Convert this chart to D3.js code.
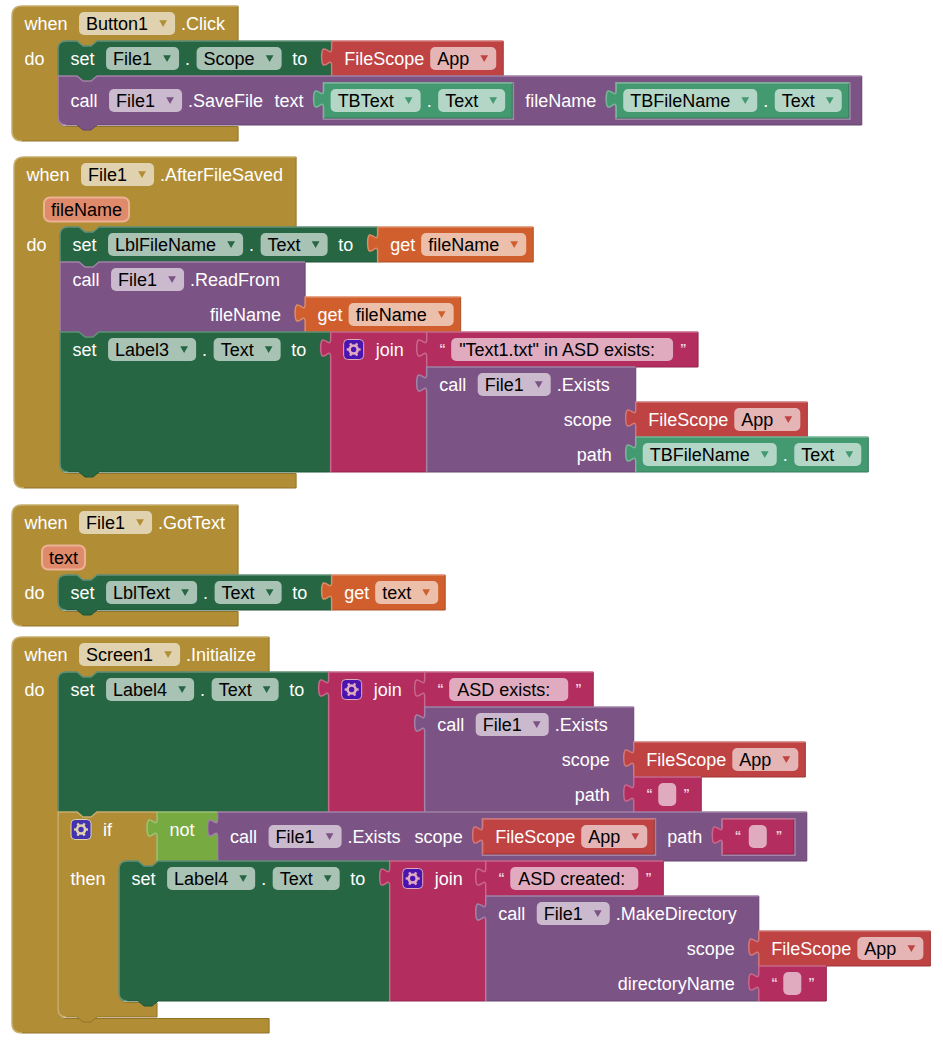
<!DOCTYPE html>
<html>
<head>
<meta charset="utf-8">
<script src="https://cdn.jsdelivr.net/npm/d3@7"></script>
<style>
  html, body { margin: 0; background: #fff; }
  svg { display: block; }
  text { font-family: "Liberation Sans", Arial, sans-serif; font-size: 18px; white-space: pre; }
</style>
</head>
<body>
<script>
// what the blocks say, one small list per event handler
const clickStatements = [
  setter('File1', 'Scope', fileScope()),
  callInline('File1', '.SaveFile', [
    ['text', getter('TBText', 'Text')],
    ['fileName', getter('TBFileName', 'Text')],
  ]),
];

const afterSavedStatements = [
  setter('LblFileName', 'Text', getVar('fileName')),
  callExternal('File1', '.ReadFrom', [['fileName', getVar('fileName')]]),
  setter('Label3', 'Text', join(
    string('"Text1.txt" in ASD exists:\u00a0\u00a0'),
    callExternal('File1', '.Exists', [
      ['scope', fileScope()],
      ['path', getter('TBFileName', 'Text')],
    ])
  )),
];

const gotTextStatements = [
  setter('LblText', 'Text', getVar('text')),
];

const initializeStatements = [
  setter('Label4', 'Text', join(
    string('ASD exists:\u00a0\u00a0'),
    callExternal('File1', '.Exists', [
      ['scope', fileScope()],
      ['path', string('')],
    ])
  )),
  ifThen(
    not(callInline('File1', '.Exists', [
      ['scope', fileScope()],
      ['path', string('')],
    ])),
    [
      setter('Label4', 'Text', join(
        string('ASD created:\u00a0'),
        callExternal('File1', '.MakeDirectory', [
          ['scope', fileScope()],
          ['directoryName', string('')],
        ])
      )),
    ]
  ),
];

const handlers = [
  eventBlock('Button1', '.Click', null, clickStatements),
  eventBlock('File1', '.AfterFileSaved', 'fileName', afterSavedStatements),
  eventBlock('File1', '.GotText', 'text', gotTextStatements),
  eventBlock('Screen1', '.Initialize', null, initializeStatements),
];

// workspace layout
const width = 943;
const height = 1050;
const handlerX = [12, 14, 12, 12];
const handlerY = [6, 157, 505, 637];

const colors = {
  control: '#b18e35',
  setter: '#266643',
  getter: '#439970',
  scope: '#bf4343',
  call: '#7c5385',
  string: '#b32d5e',
  variable: '#d05f2d',
  logic: '#77ab41',
};

const ROW = 35;
const INLINE_ROW = 49;
const BAR = 16;
// room between the longest label of a block and its input column
const callColumnPad = { '.ReadFrom': 25, '.Exists': 26, '.MakeDirectory': 22 };
const kindColumnPad = { string: 23, logic: 23, setter: 24.5 };

function txt(v) { return { type: 'text', v }; }
function dd(v) { return { type: 'dd', v }; }
function gear() { return { type: 'gear' }; }
function quote(v) { return { type: 'quote', v }; }
function tf(v) { return { type: 'tf', v }; }
function arg(v) { return { type: 'arg', v }; }

function setter(comp, prop, value) {
  return {
    type: 'block', kind: 'setter',
    rows: [{ fields: [txt('set'), dd(comp), txt('.'), dd(prop), txt('to')], input: value }],
  };
}
function getter(comp, prop) {
  return {
    type: 'block', kind: 'getter',
    rows: [{ fields: [dd(comp), txt('.'), dd(prop)] }],
  };
}
function fileScope() {
  return {
    type: 'block', kind: 'scope', tight: true,
    rows: [{ fields: [txt('FileScope'), dd('App')] }],
  };
}
function getVar(name) {
  return {
    type: 'block', kind: 'variable', tight: true,
    rows: [{ fields: [txt('get'), dd(name)] }],
  };
}
function string(v) {
  return {
    type: 'block', kind: 'string',
    rows: [{ fields: [quote('\u201c'), tf(v), quote('\u201d')] }],
  };
}
function join(a, b) {
  return {
    type: 'block', kind: 'string',
    rows: [{ fields: [gear(), txt('join')], input: a }, { fields: [], input: b }],
  };
}
function not(value) {
  return {
    type: 'block', kind: 'logic',
    rows: [{ fields: [txt('not')], input: value }],
  };
}
function callExternal(comp, method, args) {
  return {
    type: 'block', kind: 'call', method,
    rows: [{ fields: [txt('call'), dd(comp), txt(method)] }]
      .concat(args.map(([label, value]) => ({ fields: [txt(label)], input: value, right: true }))),
  };
}
function callInline(comp, method, args) {
  const fields = [txt('call'), dd(comp), txt(method)];
  args.forEach(([label, value]) => fields.push(txt(label), value));
  return { type: 'block', kind: 'call', rows: [{ fields, inline: true }] };
}
function ifThen(cond, statements) {
  return {
    type: 'block', kind: 'control', minCol: 99,
    rows: [
      { fields: [gear(), txt('if')], input: cond },
      { fields: [txt('then')], stmts: statements },
    ],
  };
}
function eventBlock(comp, evt, param, statements) {
  const rows = [{ fields: [txt('when'), dd(comp), txt(evt)] }];
  if (param) rows.push({ fields: [arg(param)] });
  rows.push({ fields: [txt('do')], stmts: statements });
  return { type: 'block', kind: 'control', event: true, rows };
}

// text measuring
const svg = d3.select('body').append('svg')
  .attr('width', width)
  .attr('height', height);

const ruler = svg.append('text').attr('visibility', 'hidden');
const textWidth = (s) => {
  ruler.text(s);
  return ruler.node().getComputedTextLength();
};

const fieldWidth = (f) => {
  switch (f.type) {
    case 'text': return textWidth(f.v);
    case 'dd': return textWidth(f.v) + 34;
    case 'tf': return Math.max(18, textWidth(f.v) + 16);
    case 'arg': return textWidth(f.v) + 14;
    case 'quote': return 5;
    case 'gear': return 21;
    default: return f.w;
  }
};

const fieldGap = (prev, f, b) => {
  if (!prev) {
    if (f.type === 'dd') return 7;
    if (f.type === 'arg') return 30;
    return 12.5;
  }
  if (f.type === 'block') return 20;
  if (prev.type === 'block') return 13;
  // an empty string plugged inline sits a little wider
  if (f.type === 'quote' || prev.type === 'quote') return b.inlined ? 9 : 7;
  if (f.type === 'text' && f.v[0] === '.') return 6;
  if (prev.type === 'text' && prev.v === '.') return 6.5;
  if (prev.type === 'text' && prev.v === '.Exists') return 14;
  if (b.tight) return 6;
  if (prev.type === 'dd') return 10.5;
  return 11.5;
};

// sets widths, heights and field offsets, bottom up
function layout(b) {
  let col = b.minCol || 0;
  let end = 0;
  let hasInput = false;
  const columnPad = callColumnPad[b.method] || kindColumnPad[b.kind] || 24;
  b.stmtRow = null;

  b.rows.forEach((row) => {
    let x = 0;
    let prev = null;
    row.fields.forEach((f) => {
      if (f.type === 'block') {
        f.output = true;
        f.inlined = true;
        layout(f);
      }
      x += fieldGap(prev, f, b);
      f.x = x;
      x += fieldWidth(f);
      prev = f;
    });
    row.end = x;
    if (row.inline) row.end += prev.type === 'block' ? 13 : 7;

    row.h = row.inline ? INLINE_ROW : ROW;
    if (row.input) {
      row.input.output = true;
      layout(row.input);
      row.h = Math.max(ROW, row.input.h);
      hasInput = true;
    } else if (row.stmts) {
      row.stmts.forEach((s, i) => {
        s.stmt = true;
        s.roundTop = i === 0;
        s.roundBottom = i === row.stmts.length - 1;
        layout(s);
      });
      row.stmtX = row.end + 13.5;
      row.h = d3.sum(row.stmts, (s) => s.h);
      b.stmtRow = row;
    }
    if (!row.stmts) col = Math.max(col, row.end + columnPad);
    if (!row.stmts && !row.input && !row.inline && row.fields.length) {
      const last = row.fields[row.fields.length - 1];
      end = Math.max(end, row.end + (last.type === 'dd' ? 7 : 13));
    }
    if (row.inline) end = Math.max(end, row.end);
  });

  b.w = hasInput ? col : end;
  b.h = d3.sum(b.rows, (r) => r.h) + (b.stmtRow ? BAR : 0);
}

const mix = (c, other, t) => d3.interpolateRgb(c, other)(t);

// outline split in two, so top/left and bottom/right can get their own edge colour
function outline(b, x, y) {
  const w = b.w;
  const h = b.h;
  const rt = b.event ? 10 : (b.roundTop ? 8 : 0);
  const rb = b.event ? 10 : (b.roundBottom ? 8 : 0);
  let d = `M${x + rb},${y + h}`;
  if (rb) d += `Q${x},${y + h} ${x},${y + h - rb}`;
  if (b.output) {
    d += `L${x},${y + 25}c0,-12 -10,10 -10,-9 s10,3 10,-9`;
  }
  d += `L${x},${y + rt}`;
  if (rt) d += `Q${x},${y} ${x + rt},${y}`;
  if (b.stmt) d += `L${x + 19},${y}l6,5h8l6,-5`;
  d += `L${x + w},${y}`;

  let rest = '';
  const bump = (bx, by) => `L${bx + 39},${by}l-6,5h-8l-6,-5`;
  if (b.stmtRow) {
    const rowsAbove = d3.sum(b.rows.slice(0, b.rows.indexOf(b.stmtRow)), (r) => r.h);
    const y1 = y + rowsAbove;
    const y2 = y1 + b.stmtRow.h;
    const sx = x + b.stmtRow.stmtX;
    rest += `L${x + w},${y1}` + bump(sx, y1);
    rest += `L${sx + 8},${y1}Q${sx},${y1} ${sx},${y1 + 8}`;
    rest += `L${sx},${y2 - 8}Q${sx},${y2 + 1.5} ${sx + 8},${y2 + 1.5}`;
    rest += `L${x + w},${y2 + 1.5}`;
  }
  rest += `L${x + w},${y + h}`;
  if (b.stmt) rest += bump(x, y + h);
  rest += `L${x + rb},${y + h}`;
  return { top: d, rest };
}

function drawField(g, f, x, cy, color) {
  if (f.type === 'text') {
    g.append('text').attr('x', x).attr('y', cy + 6).attr('fill', '#fff').text(f.v);
  } else if (f.type === 'dd' || f.type === 'tf') {
    const w = fieldWidth(f);
    g.append('rect')
      .attr('x', x).attr('y', cy - 11.5)
      .attr('width', w).attr('height', 23)
      .attr('rx', 5)
      .attr('fill', mix(color, '#fff', 0.6));
    g.append('text')
      .attr('x', x + (f.type === 'dd' ? 7 : 8)).attr('y', cy + 6)
      .attr('fill', '#000')
      .text(f.v);
    if (f.type === 'dd') {
      g.append('path')
        .attr('d', d3.symbol(d3.symbolTriangle, 26))
        .attr('transform', `translate(${x + w - 12},${cy - 1}) rotate(180)`)
        .attr('fill', color);
    }
  } else if (f.type === 'arg') {
    g.append('rect')
      .attr('x', x).attr('y', cy - 12)
      .attr('width', fieldWidth(f)).attr('height', 24)
      .attr('rx', 6)
      .attr('fill', '#de8a6b')
      .attr('stroke', '#edb195')
      .attr('stroke-width', 2);
    g.append('text').attr('x', x + 7).attr('y', cy + 6).attr('fill', '#000').text(f.v);
  } else if (f.type === 'quote') {
    g.append('text')
      .attr('x', x).attr('y', cy + 3)
      .attr('fill', mix(color, '#fff', 0.8))
      .style('font-size', '13px')
      .style('font-weight', 'bold')
      .text(f.v);
  } else if (f.type === 'gear') {
    const light = mix(color, '#fff', 0.6);
    g.append('rect')
      .attr('x', x + 0.5).attr('y', cy - 10)
      .attr('width', 20).attr('height', 20)
      .attr('rx', 4)
      .attr('fill', color === colors.string ? '#4a14b0' : '#4433b0')
      .attr('stroke', light);
    const cx = x + 10.5;
    g.append('circle')
      .attr('cx', cx).attr('cy', cy).attr('r', 4)
      .attr('fill', 'none')
      .attr('stroke', light)
      .attr('stroke-width', 2.6);
    g.selectAll(null)
      .data(d3.range(6))
      .join('line')
      .attr('x1', (i) => cx + 4.5 * Math.cos(i * Math.PI / 3))
      .attr('y1', (i) => cy + 4.5 * Math.sin(i * Math.PI / 3))
      .attr('x2', (i) => cx + 7 * Math.cos(i * Math.PI / 3))
      .attr('y2', (i) => cy + 7 * Math.sin(i * Math.PI / 3))
      .attr('stroke', light)
      .attr('stroke-width', 2.4);
  }
}

function drawBlock(g, b, x, y) {
  const color = colors[b.kind];
  const { top, rest } = outline(b, x, y);

  g.append('path').attr('d', top + rest + 'Z').attr('fill', color);
  g.append('path')
    .attr('d', `M${x + b.w},${y}` + rest)
    .attr('fill', 'none')
    .attr('stroke', mix(color, '#000', 0.18))
    .attr('stroke-width', 1);
  g.append('path')
    .attr('d', top)
    .attr('fill', 'none')
    .attr('stroke', mix(color, '#fff', 0.28))
    .attr('stroke-width', 1.5);

  let rowY = y;
  b.rows.forEach((row) => {
    const cy = rowY + (row.inline ? row.h / 2 : ROW / 2);
    const shift = row.right ? b.w - 24 - row.end : 0;

    row.fields.forEach((f) => {
      if (f.type === 'block') {
        const cx = x + f.x;
        const cTop = rowY + 7;
        g.append('rect')
          .attr('x', cx - 1).attr('y', cTop - 1)
          .attr('width', f.w + 3).attr('height', f.h + 3)
          .attr('fill', mix(color, '#fff', 0.28));
        drawBlock(g, f, cx, cTop);
      } else {
        drawField(g, f, x + f.x + shift, cy, color);
      }
    });

    if (row.input) drawBlock(g, row.input, x + b.w, rowY);
    if (row.stmts) {
      let sy = rowY;
      row.stmts.forEach((s) => {
        drawBlock(g, s, x + row.stmtX, sy);
        sy += s.h;
      });
    }
    rowY += row.h;
  });
}

const canvas = svg.append('g');
handlers.forEach((h, i) => {
  layout(h);
  drawBlock(canvas.append('g'), h, handlerX[i], handlerY[i]);
});
ruler.remove();
</script>
</body>
</html>
